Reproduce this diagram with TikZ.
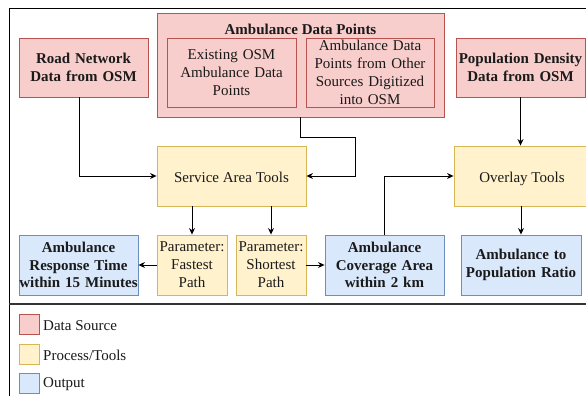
\documentclass[tikz,border=0pt]{standalone}
\usepackage{fontspec}
\setmainfont{Liberation Serif}
\newfontfamily\tms{Liberation Serif}
\usetikzlibrary{arrows.meta,calc}
\definecolor{redF}{HTML}{F8CECC}\definecolor{redD}{HTML}{B85450}
\definecolor{yelF}{HTML}{FFF2CC}\definecolor{yelD}{HTML}{D6B656}
\definecolor{bluF}{HTML}{DAE8FC}\definecolor{bluD}{HTML}{6C8EBF}
\definecolor{txt}{HTML}{1A1A1A}
\begin{document}
\begin{tikzpicture}[x=1pt,y=-1pt,
  box/.style={draw,line width=0.9pt,inner sep=0pt,align=center,text=txt,
    font=\tms\fontsize{15}{18}\selectfont},
  srcbox/.style={box,fill=redF,draw=redD},
  procbox/.style={box,fill=yelF,draw=yelD},
  outbox/.style={box,fill=bluF,draw=bluD},
  oneline/.style={text height=13pt,text depth=1pt},
  bld/.style={font=\tms\fontsize{15}{17.7}\selectfont\bfseries},
  conn/.style={line width=0.9pt,draw=black,-{Stealth[length=6.5pt,width=6pt]}},
  legtxt/.style={anchor=west,inner sep=0pt,text=txt,font=\tms\fontsize{15}{18}\selectfont}]
\useasboundingbox (0,0) rectangle (586,396);
\fill[white] (0,0) rectangle (586,396);
% frame
\draw[line width=0.9pt] (586,8) -- (9,8) -- (9,396);
\draw[line width=1.1pt,draw=black!80] (9,304) -- (586,304);
% data sources
\node[srcbox,bld,minimum width=129pt,minimum height=59pt,text width=125pt] (road) at (83.5,67.5) {Road Network\\Data from OSM};
\node[srcbox,minimum width=287pt,minimum height=104pt] (adp) at (300.5,65) {};
\node[inner sep=0pt,text=txt,font=\tms\fontsize{15}{18}\selectfont\bfseries] (adpt) at (300.5,29) {Ambulance Data Points};
\node[srcbox,minimum width=129pt,minimum height=69pt,text width=125pt] (exist) at (231.5,72.5) {Existing OSM\\Ambulance Data\\Points};
\node[srcbox,minimum width=128pt,minimum height=69pt,text width=124pt] (other) at (370,72.5) {Ambulance Data\\Points from Other\\Sources Digitized\\into OSM};
\node[srcbox,bld,minimum width=129pt,minimum height=59pt,text width=127pt] (pop) at (520.5,67.5) {Population Density\\Data from OSM};
% tools
\node[procbox,oneline,minimum width=149pt,minimum height=60pt] (sat) at (231.5,176) {Service Area Tools};
\node[procbox,oneline,minimum width=136pt,minimum height=60pt] (ovl) at (522,176) {Overlay Tools};
\node[procbox,minimum width=70pt,minimum height=60pt,text width=70pt] (fast) at (192,265) {Parameter:\\Fastest\\Path};
\node[procbox,minimum width=70pt,minimum height=60pt,text width=70pt] (short) at (271,265) {Parameter:\\Shortest\\Path};
% outputs
\node[outbox,bld,minimum width=119pt,minimum height=60pt,text width=119pt] (resp) at (78.5,265) {Ambulance\\Response Time\\within 15 Minutes};
\node[outbox,bld,minimum width=119pt,minimum height=60pt,text width=117pt] (cov) at (384.5,265) {Ambulance\\Coverage Area\\within 2 km};
\node[outbox,bld,minimum width=120pt,minimum height=60pt,text width=118pt] (ratio) at (521,265) {Ambulance to\\Population Ratio};
% connectors
\draw[conn] ($(road.south)+(-4.5,0)$) |- (sat.west);
\draw[conn] (adp.south) -- ++(0,20) -| ($(sat.east)+(49,0)$) -- (sat.east);
\draw[conn] (pop.south) -- (pop.south |- ovl.north);
\draw[conn] (cov.north) |- (ovl.west);
\draw[conn] (fast.north |- sat.south) -- (fast.north);
\draw[conn] (short.north |- sat.south) -- (short.north);
\draw[conn] (fast.west) -- (resp.east);
\draw[conn] (short.east) -- (cov.west);
\draw[conn] (ratio.north |- ovl.south) -- (ratio.north);
% legend
\node[srcbox,minimum width=20pt,minimum height=20pt] (l1) at (29,324) {};
\node[procbox,minimum width=20pt,minimum height=20pt] (l2) at (29,354) {};
\node[outbox,minimum width=20pt,minimum height=20pt] (l3) at (29,383) {};
\node[legtxt] (t1) at (43,326) {Data Source};
\node[legtxt] (t2) at (43,355) {Process/Tools};
\node[legtxt] (t3) at (43,384) {Output};
\end{tikzpicture}
\end{document}
